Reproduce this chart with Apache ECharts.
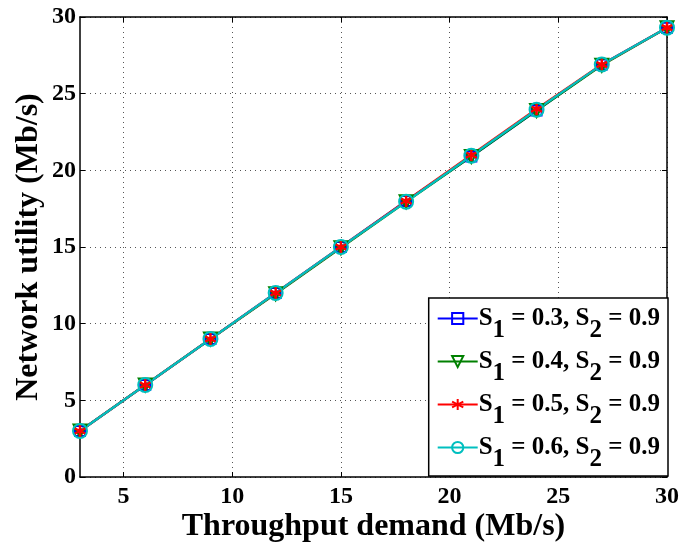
<!DOCTYPE html>
<html><head><meta charset="utf-8">
<script src="https://cdn.jsdelivr.net/npm/echarts@6/dist/echarts.min.js"></script>
<style>html,body{margin:0;padding:0;background:#fff}#c{width:681px;height:543px}</style>
</head><body><div id="c"></div>
<script>
const demand = [3, 6, 9, 12, 15, 18, 21, 24, 27, 30];
const utilS03 = [3.0, 6.0, 9.0, 12.0, 15.0, 18.0, 20.9, 23.9, 26.9, 29.3];
const utilS04 = [3.0, 6.0, 9.0, 11.95, 14.95, 17.95, 20.9, 23.9, 26.85, 29.3];
const utilS05 = [3.0, 6.0, 9.0, 12.0, 15.0, 18.0, 21.0, 24.0, 26.9, 29.3];
const utilS06 = [3.0, 6.0, 9.0, 12.0, 15.0, 17.95, 20.95, 23.95, 26.9, 29.3];
const seriesNames = ['S1 = 0.3, S2 = 0.9', 'S1 = 0.4, S2 = 0.9', 'S1 = 0.5, S2 = 0.9', 'S1 = 0.6, S2 = 0.9'];
const xTicks = [5, 10, 15, 20, 25, 30];
const yTicks = [0, 5, 10, 15, 20, 25, 30];
const xTitle = 'Throughput demand (Mb/s)';
const yTitle = 'Network utility (Mb/s)';

const FONT = '"Liberation Serif", "Times New Roman", serif';
const pair = (ys) => demand.map((x, i) => [x, ys[i]]);
const gridLine = { show: true, lineStyle: { color: '#555', type: [1, 4], width: 1 } };

const chart = echarts.init(document.getElementById('c'), null, { renderer: 'canvas' });
const mk = (name, ys, color, symbol, size, extra) => Object.assign({
  name, type: 'line', data: pair(ys), symbol, symbolSize: size,
  lineStyle: { color, width: 2.2 },
  itemStyle: { color: 'rgba(0,0,0,0)', borderColor: color, borderWidth: 2 },
  emphasis: { disabled: true }, animation: false, z: 3
}, extra || {});

chart.setOption({
  animation: false,
  backgroundColor: '#fff',
  grid: { left: 80, top: 17, right: 14, bottom: 66, containLabel: false, outerBoundsMode: 'none' },
  xAxis: [{
    type: 'value', min: 3, max: 30, position: 'bottom',
    name: xTitle, nameLocation: 'middle', nameGap: 34, nameMoveOverlap: false,
    nameTextStyle: { fontFamily: FONT, fontWeight: 'bold', fontSize: 32, color: '#000' },
    axisLine: { show: true, onZero: false, lineStyle: { color: '#000', width: 1.5 } },
    axisTick: { show: true, inside: true, length: 5, customValues: xTicks, lineStyle: { color: '#000' } },
    axisLabel: { customValues: xTicks, fontFamily: FONT, fontWeight: 'bold', fontSize: 24, color: '#000', margin: 8 },
    splitLine: gridLine
  }, {
    type: 'value', min: 3, max: 30, position: 'top',
    axisLine: { show: true, onZero: false, lineStyle: { color: '#000', width: 1.5 } },
    axisTick: { show: true, inside: true, length: 5, customValues: xTicks, lineStyle: { color: '#000' } },
    axisLabel: { show: false }, splitLine: { show: false }
  }],
  yAxis: [{
    type: 'value', min: 0, max: 30, interval: 5, position: 'left',
    name: yTitle, nameLocation: 'middle', nameGap: 35, nameMoveOverlap: false,
    nameTextStyle: { fontFamily: FONT, fontWeight: 'bold', fontSize: 32, color: '#000' },
    axisLine: { show: true, onZero: false, lineStyle: { color: '#000', width: 1.5 } },
    axisTick: { show: true, inside: true, length: 5, lineStyle: { color: '#000' } },
    axisLabel: { fontFamily: FONT, fontWeight: 'bold', fontSize: 24, color: '#000', margin: 4 },
    splitLine: gridLine
  }, {
    type: 'value', min: 0, max: 30, interval: 5, position: 'right',
    axisLine: { show: true, onZero: false, lineStyle: { color: '#000', width: 1.5 } },
    axisTick: { show: true, inside: true, length: 5, lineStyle: { color: '#000' } },
    axisLabel: { show: false }, splitLine: { show: false }
  }],
  legend: {
    data: seriesNames,
    orient: 'vertical', right: 13, bottom: 67,
    backgroundColor: '#fff', borderColor: '#000', borderWidth: 1.5, borderRadius: 0,
    padding: [8, 8, 4, 8], itemGap: 6, itemWidth: 40, itemHeight: 14,
    textStyle: {
      fontFamily: FONT, fontWeight: 'bold', fontSize: 25, color: '#000', padding: [0, 0, 0, -4],
      rich: { s: { fontFamily: FONT, fontWeight: 'bold', fontSize: 25, color: '#000', padding: [24, 0, 0, 0] } }
    },
    formatter: (n) => n.replace(/S(\d)/g, 'S{s|$1}'),
    selectedMode: false
  },
  series: [
    mk(seriesNames[0], utilS03, '#0000ff', 'rect', 10),
    mk(seriesNames[1], utilS04, '#008000', 'triangle', 13, { symbolRotate: 180 }),
    mk(seriesNames[2], utilS05, '#ff0000', 'path://M5,0L5,10M0.67,2.5L9.33,7.5M0.67,7.5L9.33,2.5', 12, { itemStyle: { color: 'rgba(0,0,0,0)', borderColor: '#ff0000', borderWidth: 2.5 } }),
    mk(seriesNames[3], utilS06, '#00bfbf', 'circle', 14)
  ]
});
</script></body></html>
